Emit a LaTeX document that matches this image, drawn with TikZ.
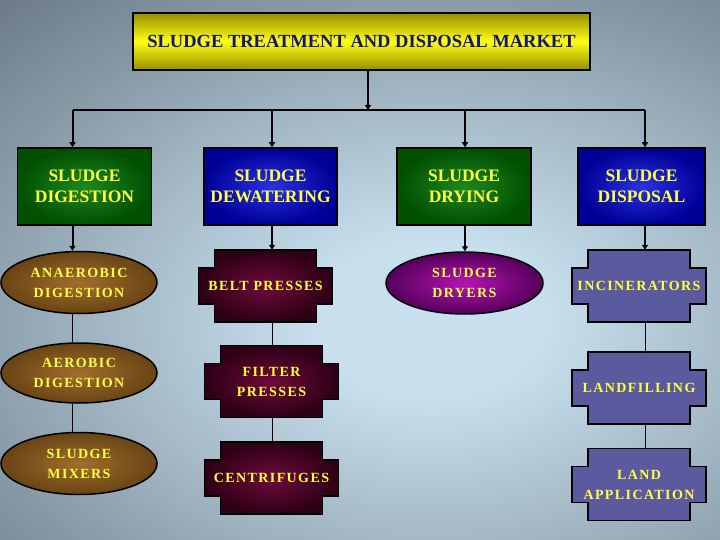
\documentclass[tikz,border=0pt]{standalone}
\usepackage{fontspec}
\setmainfont{Liberation Serif}
\newfontfamily\spacedfont[LetterSpace=10]{Liberation Serif}
\usepackage{xcolor}
\usepackage{tikz}
\usetikzlibrary{shapes,arrows.meta,positioning,calc}

\definecolor{bglight}{RGB}{200,224,238}
\definecolor{bgdark}{RGB}{88,100,112}
\definecolor{titleolive}{RGB}{150,142,0}
\definecolor{titleyellow}{RGB}{255,255,20}
\definecolor{titleblue}{RGB}{20,20,130}
\definecolor{txtyellow}{RGB}{255,255,70}
\definecolor{greenin}{RGB}{30,135,30}
\definecolor{greenout}{RGB}{0,80,0}
\definecolor{bluein}{RGB}{40,50,225}
\definecolor{blueout}{RGB}{0,0,150}
\definecolor{brownin}{RGB}{160,110,45}
\definecolor{brownout}{RGB}{105,68,20}
\definecolor{purplein}{RGB}{180,20,180}
\definecolor{purpleout}{RGB}{85,0,90}
\definecolor{maroonin}{RGB}{110,10,60}
\definecolor{maroonout}{RGB}{45,0,20}
\definecolor{slate}{RGB}{92,90,158}

\pgfdeclareradialshading{backglow}{\pgfpoint{0bp}{0bp}}{color(0bp)=(bglight); color(6bp)=(bglight); color(40bp)=(bgdark); color(75bp)=(bgdark)}

\begin{document}
\begin{tikzpicture}[x=1pt,y=-1pt,>={Triangle[length=5pt,width=6pt]},
  link/.style={line width=2pt},
  plain/.style={line width=1pt},
  headbox/.style 2 args={draw=black,line width=1.5pt,inner color=#1,outer color=#2,
    minimum width=134pt,minimum height=77pt,inner sep=0pt,align=center,
    text=txtyellow,font=\fontsize{17.5}{21}\selectfont\bfseries},
  oval/.style 2 args={ellipse,draw=black,line width=1.5pt,inner color=#1,outer color=#2,
    minimum width=156pt,minimum height=62pt,inner sep=0pt,align=center,
    text=txtyellow,font=\spacedfont\fontsize{14}{20}\selectfont\bfseries},
  notchtext/.style={minimum width=134pt,minimum height=72pt,inner sep=0pt,align=center,
    text=txtyellow,font=\spacedfont\fontsize{14}{20}\selectfont\bfseries},
  pics/notchback/.style 2 args={code={
    \shadedraw[inner color=#1,outer color=#2,line width=1.6pt]
      (-51,-36) -- (51,-36) -- (51,-18) -- (67,-18) -- (67,18) -- (51,18)
      -- (51,36) -- (-51,36) -- (-51,18) -- (-67,18) -- (-67,-18) -- (-51,-18) -- cycle;
  }}]

  \useasboundingbox (0,0) rectangle (720,540);
  \begin{scope}
    \clip (0,0) rectangle (720,540);
    \shade[shading=backglow] (-40,0) rectangle (900,640);
  \end{scope}

  % top of the tree
  \node[draw=black,line width=1.5pt,top color=titleolive,bottom color=titleolive,
    middle color=titleyellow,minimum width=457pt,minimum height=57pt,text=titleblue,
    font=\fontsize{18.5}{22}\selectfont\bfseries] (title) at (361.5,41.5)
    {SLUDGE TREATMENT AND DISPOSAL MARKET};

  \coordinate (hub) at (368,110);
  \coordinate (colA) at (72.5,110);
  \coordinate (colB) at (272,110);
  \coordinate (colC) at (465,110);
  \coordinate (colD) at (645,110);

  % first level
  \node[headbox={greenin}{greenout}] (digest) at (84.5,186.5) {SLUDGE\\DIGESTION};
  \node[headbox={bluein}{blueout},minimum width=133pt] (dewater) at (270.5,186.5) {SLUDGE\\DEWATERING};
  \node[headbox={greenin}{greenout}] (dry) at (464,186.5) {SLUDGE\\DRYING};
  \node[headbox={bluein}{blueout},minimum width=127pt] (dispose) at (641.5,186.5) {SLUDGE\\DISPOSAL};

  % second and third level
  \node[oval={brownin}{brownout}] (anaerobic) at (79,282.5) {ANAEROBIC\\DIGESTION};
  \node[oval={brownin}{brownout},minimum height=60pt] (aerobic) at (79,373) {AEROBIC\\DIGESTION};
  \node[oval={brownin}{brownout}] (mixers) at (79,463.5) {SLUDGE\\MIXERS};

  \pic at (265.5,286) {notchback={maroonin}{maroonout}};
  \node[notchtext] (belt) at (265.5,286) {BELT PRESSES};
  \pic at (271.5,381.5) {notchback={maroonin}{maroonout}};
  \node[notchtext] (filter) at (271.5,381.5) {FILTER\\PRESSES};
  \pic at (271.5,478) {notchback={maroonin}{maroonout}};
  \node[notchtext] (centri) at (271.5,478) {CENTRIFUGES};

  \node[oval={purplein}{purpleout},minimum width=157pt] (dryers) at (464.5,283) {SLUDGE\\DRYERS};

  \pic at (639,286) {notchback={slate}{slate}};
  \node[notchtext] (incin) at (639,286) {INCINERATORS};
  \pic at (639,388) {notchback={slate}{slate}};
  \node[notchtext] (landfill) at (639,388) {LANDFILLING};
  \pic at (639,484.5) {notchback={slate}{slate}};
  \node[notchtext] (landapp) at (639,484.5) {LAND\\APPLICATION};

  % connectors
  \draw[link,->] (title.south -| hub) -- (hub);
  \draw[link] (colA) -- (colD);
  \draw[link,->] (colA) -- (colA |- digest.north);
  \draw[link,->] (colB) -- (colB |- dewater.north);
  \draw[link,->] (colC) -- (colC |- dry.north);
  \draw[link,->] (colD) -- (colD |- dispose.north);

  \draw[link,->] (digest.south -| colA) -- (anaerobic.north -| colA);
  \draw[link,->] (dewater.south -| colB) -- (belt.north -| colB);
  \draw[link,->] (dry.south -| colC) -- (dryers.north -| colC);
  \draw[link,->] (dispose.south -| colD) -- (incin.north -| colD);

  \draw[plain] (anaerobic.south -| colA) -- (aerobic.north -| colA);
  \draw[plain] (aerobic.south -| colA) -- (mixers.north -| colA);
  \draw[plain] (belt.south -| colB) -- (filter.north -| colB);
  \draw[plain] (filter.south -| colB) -- (centri.north -| colB);
  \draw[plain] (incin.south -| colD) -- (landfill.north -| colD);
  \draw[plain] (landfill.south -| colD) -- (landapp.north -| colD);
\end{tikzpicture}
\end{document}
